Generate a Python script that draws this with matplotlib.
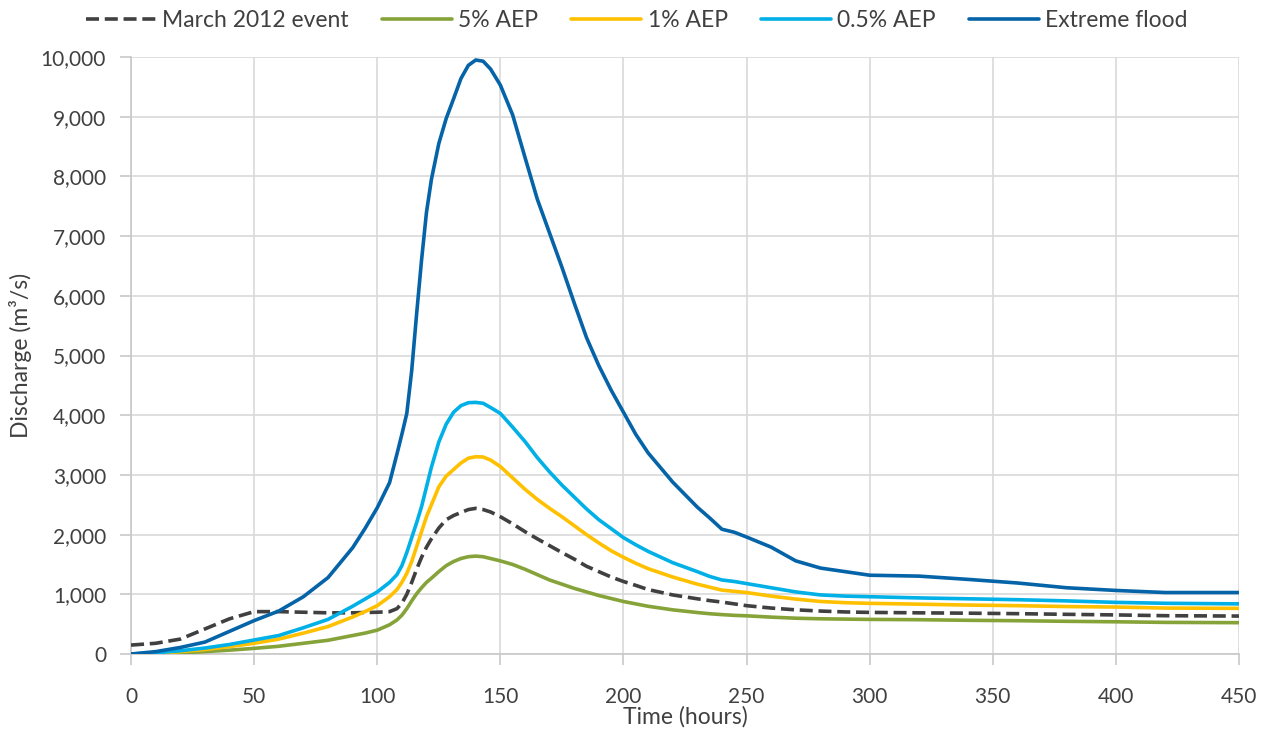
import matplotlib.pyplot as plt
from matplotlib.ticker import FuncFormatter, MultipleLocator

# hydrograph values (hours, m3/s)
hours = [0, 10, 20, 30, 40, 50, 60, 70, 80, 90, 95, 100, 105, 108, 110, 112, 114, 116,
         118, 120, 122, 125, 128, 131, 134, 137, 140, 143, 146, 150, 155, 160, 165, 170,
         175, 180, 185, 190, 195, 200, 205, 210, 220, 230, 235, 240, 245, 250, 260, 270,
         280, 290, 300, 320, 340, 360, 380, 400, 420, 450]

march_2012 = [150, 180, 250, 420, 590, 710, 710, 700, 690, 690, 695, 700, 710, 760, 850,
              1000, 1200, 1420, 1620, 1790, 1930, 2110, 2250, 2320, 2370, 2420, 2440,
              2420, 2380, 2300, 2180, 2050, 1930, 1815, 1700, 1590, 1470, 1380, 1290, 1215,
              1150, 1080, 990, 925, 895, 870, 840, 810, 770, 740, 720, 705, 697, 690, 684,
              676, 665, 655, 642, 636]
aep_5 = [0, 5, 20, 40, 65, 95, 130, 180, 230, 310, 350, 400, 490, 570, 650, 760, 890,
         1010, 1110, 1200, 1270, 1380, 1480, 1550, 1600, 1630, 1640, 1630, 1600, 1560,
         1500, 1420, 1330, 1240, 1170, 1100, 1040, 980, 930, 880, 840, 800, 740, 695, 675,
         660, 648, 640, 618, 600, 590, 585, 580, 575, 565, 558, 548, 540, 530, 525]
aep_1 = [0, 15, 40, 75, 125, 180, 250, 350, 460, 620, 710, 810, 960, 1080, 1200, 1350,
         1550, 1800, 2050, 2300, 2500, 2800, 2980, 3090, 3200, 3280, 3305, 3300, 3250,
         3140, 2950, 2760, 2590, 2440, 2300, 2150, 2000, 1860, 1730, 1620, 1520, 1430,
         1290, 1170, 1120, 1070, 1050, 1030, 970, 920, 880, 860, 849, 835, 820, 810, 795,
         787, 770, 765]
aep_05 = [0, 20, 55, 100, 160, 235, 310, 440, 580, 800, 920, 1040, 1200, 1330, 1480,
          1700, 1950, 2200, 2470, 2800, 3130, 3550, 3850, 4050, 4160, 4210, 4215, 4200,
          4130, 4030, 3800, 3560, 3290, 3050, 2830, 2630, 2430, 2250, 2100, 1950, 1830,
          1720, 1530, 1380, 1300, 1240, 1215, 1180, 1110, 1040, 990, 970, 960, 940, 925,
          910, 890, 865, 850, 840]
extreme = [0, 40, 110, 200, 380, 560, 720, 960, 1280, 1780, 2100, 2450, 2870, 3350, 3680,
           4030, 4750, 5700, 6600, 7400, 7950, 8550, 8970, 9300, 9640, 9860, 9950, 9930,
           9800, 9530, 9030, 8320, 7620, 7050, 6480, 5880, 5300, 4830, 4420, 4050, 3680,
           3370, 2880, 2460, 2280, 2090, 2040, 1960, 1790, 1560, 1440, 1380, 1320, 1305,
           1250, 1190, 1110, 1065, 1030, 1030]

series_labels = ["March 2012 event", "5% AEP", "1% AEP", "0.5% AEP", "Extreme flood"]
series_colors = ["#404040", "#86A33A", "#FFC000", "#00B0E6", "#0563A8"]

plt.rcParams["font.family"] = ["Lato", "DejaVu Sans"]
text_color = "#404040"

fig = plt.figure(figsize=(12.71, 7.31), dpi=100)
ax = fig.add_axes([0.1031, 0.1053, 0.8717, 0.8167])

all_series = [march_2012, aep_5, aep_1, aep_05, extreme]
for i, (vals, label, color) in enumerate(zip(all_series, series_labels, series_colors)):
    if i == 0:
        ax.plot(hours, vals, color=color, lw=2.6, label=label, dashes=(3.6, 1.6), zorder=3)
    else:
        ax.plot(hours, vals, color=color, lw=2.6, label=label,
                solid_capstyle="round", solid_joinstyle="round", zorder=3)

ax.set_xlim(0, 450)
ax.set_ylim(0, 10000)
ax.xaxis.set_major_locator(MultipleLocator(50))
ax.yaxis.set_major_locator(MultipleLocator(1000))
ax.yaxis.set_major_formatter(FuncFormatter(lambda v, p: f"{int(v):,}"))

ax.grid(True, color="#d9d9d9", lw=1.2, zorder=0)
for side in ["top", "right"]:
    ax.spines[side].set_visible(False)
for side in ["left", "bottom"]:
    ax.spines[side].set_color("#c8c8c8")
    ax.spines[side].set_linewidth(1.2)
ax.tick_params(axis="both", colors="#c8c8c8", length=8, width=1.2,
               labelcolor=text_color, labelsize=15)
ax.tick_params(axis="x", pad=16)
ax.tick_params(axis="y", pad=10)

ax.set_xlabel("Time (hours)", fontsize=16.5, color=text_color, labelpad=-1)
ax.set_ylabel("Discharge (m³/s)", fontsize=16.5, color=text_color, labelpad=6)

fig.legend(loc="center", bbox_to_anchor=(0.501, 0.972), ncol=5, frameon=False,
           fontsize=16.5, handlelength=3.05, handletextpad=0.27, columnspacing=1.45,
           labelcolor=text_color, borderaxespad=0)

fig.savefig("out.png", dpi=100)
